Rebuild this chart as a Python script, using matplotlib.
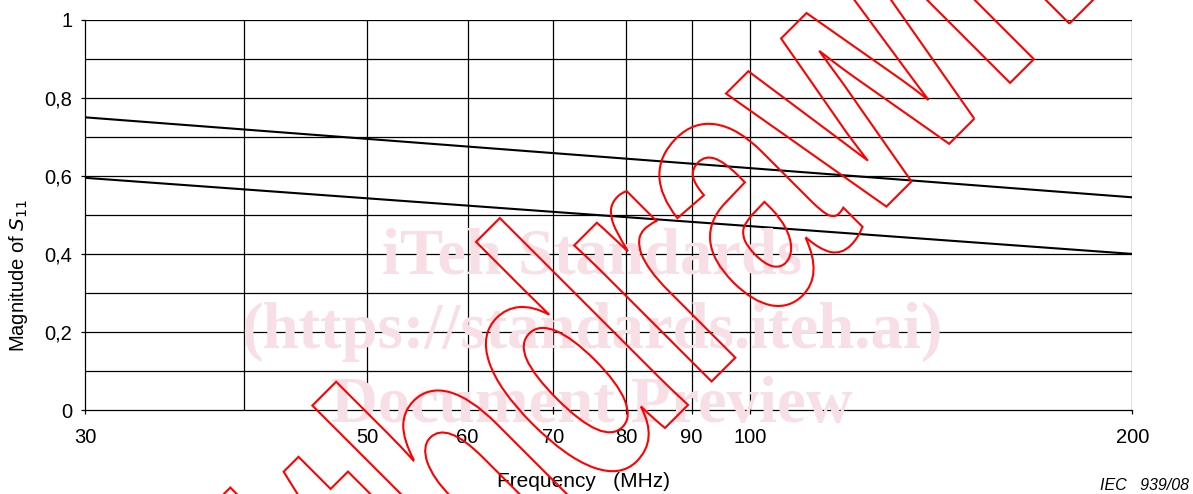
"""
    Magnitude of S11 versus frequency (IEC 939/08)
    log frequency axis, two limit lines, watermarks
"""
import matplotlib.pyplot as plt
from matplotlib.ticker import FixedLocator, NullLocator
from matplotlib.textpath import TextPath
from matplotlib.font_manager import FontProperties
from matplotlib.patches import PathPatch
from matplotlib.transforms import Affine2D

plt.rcParams['font.family'] = ['Liberation Sans', 'DejaVu Sans']

# data
freq = [30, 200]
upper_s11 = [0.75, 0.545]
lower_s11 = [0.595, 0.40]

grid_freqs = [30, 40, 50, 60, 70, 80, 90, 100, 200]
x_tick_freqs = [30, 50, 60, 70, 80, 90, 100, 200]
x_tick_labels = ['30', '50', '60', '70', '80', '90', '100', '200']
y_grid = [0.1 * i for i in range(11)]
y_ticks = [0, 0.2, 0.4, 0.6, 0.8, 1.0]
y_tick_labels = ['0', '0,2', '0,4', '0,6', '0,8', '1']

watermark_lines = ['iTeh Standards', '(https://standards.iteh.ai)', 'Document Preview']
stamp_text = 'Withdrawn'


def main():
    fig = plt.figure(figsize=(11.93, 4.94), dpi=100)
    ax = fig.add_axes([0.0712, 0.170, 0.878, 0.790])

    ax.set_xscale('log')
    ax.set_xlim(30, 200)
    ax.set_ylim(0, 1)

    # grid
    for f in grid_freqs[1:]:
        ax.axvline(f, color='black', linewidth=0.9, zorder=1)
    for y in y_grid[1:]:
        ax.axhline(y, color='black', linewidth=0.9, zorder=1)

    # data
    ax.plot(freq, upper_s11, color='black', linewidth=1.5, zorder=3)
    ax.plot(freq, lower_s11, color='black', linewidth=1.5, zorder=3)

    ax.xaxis.set_major_locator(FixedLocator(x_tick_freqs))
    ax.xaxis.set_minor_locator(NullLocator())
    ax.set_xticklabels(x_tick_labels)
    ax.set_yticks(y_ticks)
    ax.set_yticklabels(y_tick_labels)
    ax.tick_params(axis='both', labelsize=14.5, length=3, width=0.9, pad=6)
    ax.tick_params(axis='x', pad=10)

    for side in ['top', 'right']:
        ax.spines[side].set_visible(False)
    for side in ['left', 'bottom']:
        ax.spines[side].set_linewidth(0.9)

    fig.text(0.0151, 0.443, 'Magnitude of $S_{11}$', fontsize=14.5, rotation=90,
             ha='center', va='center')
    fig.text(0.4887, 0.026, 'Frequency   (MHz)', fontsize=15, ha='center', va='center')
    fig.text(0.997, 0.002, 'IEC   939/08', fontsize=11.5, style='italic', ha='right', va='bottom')

    # pink watermark
    for i, line in enumerate(watermark_lines):
        fig.text(0.496, 0.478 - i * 0.150, line, fontsize=46.5, fontweight='bold',
                 family='Liberation Serif', color='#f8dfe6', ha='center', va='center', zorder=0)

    # red outlined stamp, narrow bold letters turned 45 degrees (pixel units)
    stamp = TextPath((0, 0), stamp_text, size=1,
                     prop=FontProperties(family='Liberation Sans', weight='bold'))
    stamp_tr = Affine2D().scale(245, 366).rotate_deg(45).translate(220, -379)
    fig.add_artist(PathPatch(stamp, transform=stamp_tr, facecolor='none',
                             edgecolor='red', linewidth=1.5, zorder=5))

    fig.savefig('out.png', dpi=100)


if __name__ == '__main__':
    main()
